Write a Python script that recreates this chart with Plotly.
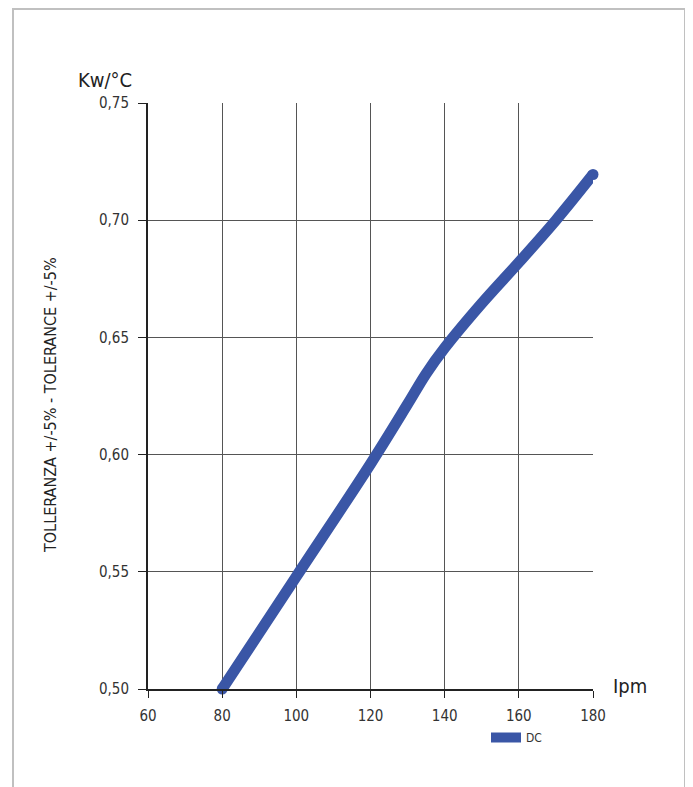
import plotly.graph_objects as go

# Data
ipm = [80, 100, 120, 130, 135, 140, 150, 160, 170, 180]
kw_per_c = [0.500, 0.548, 0.596, 0.6215, 0.6345, 0.6455, 0.6645, 0.682, 0.700, 0.7195]
series_name = "DC"
x_ticks = [60, 80, 100, 120, 140, 160, 180]
y_ticks = [0.50, 0.55, 0.60, 0.65, 0.70, 0.75]

FONT = "DejaVu Sans Condensed, Liberation Sans Narrow, sans-serif"
BLUE = "#3a56a6"

OFF = 8  # page body offset
W, H = 693, 787
L, T = 148 - OFF, 103 - OFF
pw, ph = 445, 586
R, B = W - L - pw, H - T - ph

def px_x(p):
    return (p - OFF - L) / pw

def px_y(p):
    return (T + ph - (p - OFF)) / ph

fig = go.Figure()
fig.add_trace(go.Scatter(
    x=ipm, y=kw_per_c, mode="lines", name=series_name,
    line=dict(color=BLUE, width=11, shape="spline", smoothing=1.0),
    showlegend=True,
))
# round end caps
fig.add_trace(go.Scatter(
    x=[ipm[0], ipm[-1]], y=[kw_per_c[0], kw_per_c[-1]], mode="markers",
    marker=dict(color=BLUE, size=11), cliponaxis=False, showlegend=False,
    hoverinfo="skip",
))

fig.update_layout(
    width=W, height=H,
    margin=dict(l=L, r=R, t=T, b=B),
    paper_bgcolor="white", plot_bgcolor="white",
    separators=",.",
    font=dict(family=FONT, color="#333333", size=15),
    showlegend=True,
    legend=dict(
        x=px_x(486), y=px_y(723), xanchor="left", yanchor="top",
        orientation="h", font=dict(size=12, family=FONT, color="#333333"),
        bgcolor="rgba(0,0,0,0)", itemwidth=30,
    ),
    xaxis=dict(
        range=[60, 180], tickvals=x_ticks, ticktext=[str(v) for v in x_ticks],
        showgrid=True, gridcolor="#555555", gridwidth=1,
        showline=True, linecolor="#222222", linewidth=2,
        ticks="outside", ticklen=7, tickcolor="#222222", tickwidth=1,
        zeroline=False, tickfont=dict(size=15), ticklabelstandoff=5,
    ),
    yaxis=dict(
        range=[0.5, 0.75], tickvals=y_ticks, tickformat=".2f",
        showgrid=True, gridcolor="#555555", gridwidth=1,
        showline=True, linecolor="#222222", linewidth=2,
        ticks="outside", ticklen=8, tickcolor="#222222", tickwidth=1,
        zeroline=False, tickfont=dict(size=15), ticklabelstandoff=6,
    ),
    annotations=[
        dict(text="Kw/°C", xref="paper", yref="paper", x=px_x(105), y=px_y(80),
             xanchor="center", yanchor="middle",
             showarrow=False, font=dict(size=20, family=FONT, color="#222222")),
        dict(text="Ipm", xref="paper", yref="paper", x=px_x(630), y=px_y(686),
             xanchor="center", yanchor="middle",
             showarrow=False, font=dict(size=20, family=FONT, color="#222222")),
        dict(text="TOLLERANZA +/-5% - TOLERANCE +/-5%", xref="paper", yref="paper",
             x=px_x(50), y=px_y(405), textangle=-90, showarrow=False,
             xanchor="center", yanchor="middle",
             font=dict(size=16, family=FONT, color="#222222")),
    ],
    shapes=[
        dict(type="rect", xref="paper", yref="paper",
             x0=px_x(13), x1=px_x(685), y0=px_y(800), y1=px_y(9),
             line=dict(color="#c0c0c0", width=2), layer="below"),
    ],
)

fig.write_html("out.html")
